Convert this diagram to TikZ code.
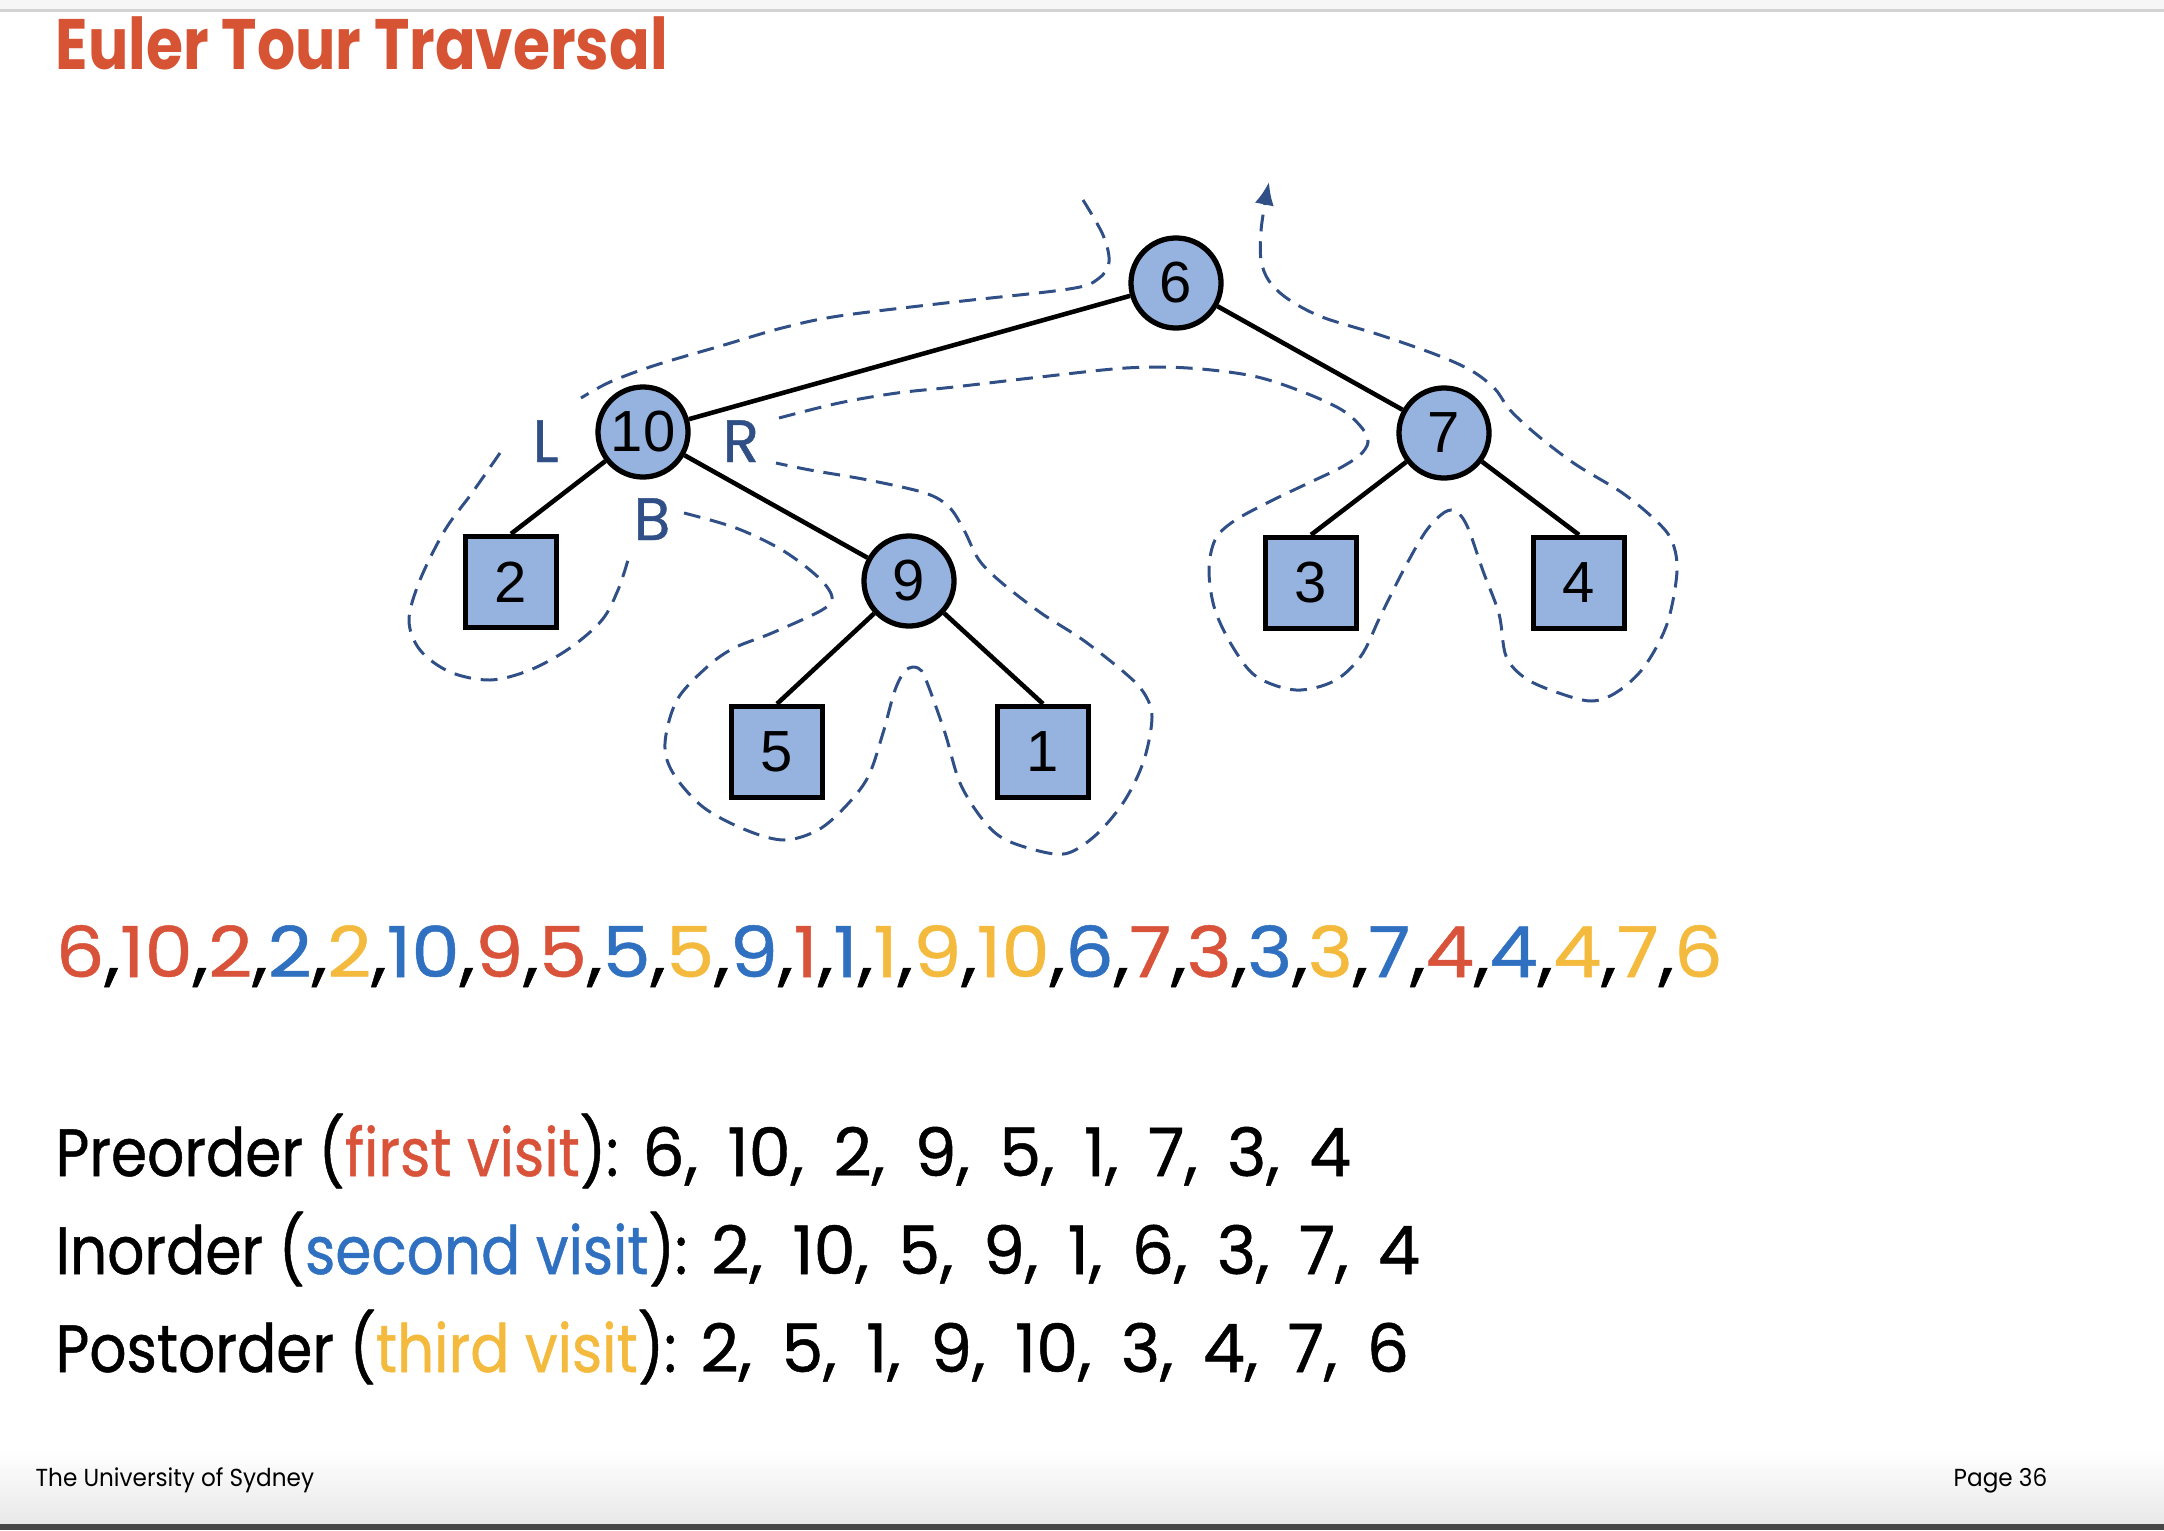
\documentclass[tikz,border=0pt]{standalone}
\usepackage{fontspec}
\setmainfont{Poppins}[FakeBold=0.7]
\newfontfamily\titlefont{Poppins}[FakeStretch=0.84]
\newfontfamily\tourfont{Poppins}[FakeStretch=1.095, FakeBold=0.7]
\newfontfamily\wordfont{Poppins}[FakeStretch=0.87, FakeBold=0.7]
\newfontfamily\footfont{Poppins}[FakeStretch=0.94]
\newfontfamily\keyfont{Liberation Sans}
\usetikzlibrary{arrows.meta}
\definecolor{titlered}{RGB}{214,83,52}
\definecolor{firstc}{RGB}{217,83,58}
\definecolor{secondc}{RGB}{48,112,192}
\definecolor{thirdc}{RGB}{244,186,61}
\definecolor{keyfill}{RGB}{149,179,222}
\definecolor{tourblue}{RGB}{47,79,134}
\newcommand{\fv}[1]{\textcolor{firstc}{#1}}
\newcommand{\sv}[1]{\textcolor{secondc}{#1}}
\newcommand{\tv}[1]{\textcolor{thirdc}{#1}}
\newcommand{\orderlist}[1]{{\spaceskip=\dimexpr\fontdimen2\font+3.3pt\relax #1}}

\begin{document}
\begin{tikzpicture}[x=0.01cm, y=-0.01cm,
  keynode/.style={circle, draw, line width=1.5pt, fill=keyfill, minimum size=0.9cm, inner sep=0pt, font=\keyfont\fontsize{16.5}{19}\selectfont},
  leafnode/.style={rectangle, draw, line width=1.5pt, fill=keyfill, minimum size=0.91cm, inner sep=0pt, font=\keyfont\fontsize{16.5}{19}\selectfont},
  branch/.style={line width=1.3pt},
  tour/.style={tourblue, line width=0.85pt, dash pattern=on 4.8pt off 2.8pt},
  side/.style={tourblue, anchor=base west, inner sep=0pt, font=\fontsize{17}{20}\selectfont},
  textline/.style={anchor=base west, inner sep=0pt, font=\fontsize{19}{22}\selectfont}]
  \useasboundingbox (0,0) rectangle (2164,1530);
  \fill[gray!7] (0,0) rectangle (2164,10);
  \draw[gray!35, line width=0.6pt] (0,10.5) -- (2164,10.5);
  \shade[top color=white, bottom color=gray!18] (0,1450) rectangle (2164,1524);
  \fill[black!72] (0,1524) rectangle (2164,1530);

  \node[anchor=base west, inner sep=0pt, text=titlered, font=\titlefont\bfseries\fontsize{20.3}{24}\selectfont] (title) at (55,69) {Euler Tour Traversal};

  \node[keynode] (n6) at (1176,283) {6};
  \node[keynode] (n10) at (643,432) {10};
  \node[keynode] (n7) at (1444,433) {7};
  \node[keynode] (n9) at (909,581) {9};
  \node[leafnode] (l2) at (511,582) {2};
  \node[leafnode] (l5) at (777,752) {5};
  \node[leafnode] (l1) at (1043,752) {1};
  \node[leafnode] (l3) at (1311,583) {3};
  \node[leafnode] (l4) at (1579,583) {4};
  \draw[branch] (n6) -- (n10);
  \draw[branch] (n6) -- (n7);
  \draw[branch] (n10) -- (l2.north);
  \draw[branch] (n10) -- (n9);
  \draw[branch] (n9) -- (l5.north);
  \draw[branch] (n9) -- (l1.north);
  \draw[branch] (n7) -- (l3.north);
  \draw[branch] (n7) -- (l4.north);

  \node[side] (sideL) at (532,462) {L};
  \node[side] (sideR) at (722,462) {R};
  \node[side] (sideB) at (633,540) {B};

  \draw[tour] plot[smooth, tension=0.55] coordinates {(1083,200) (1103,235) (1109,262) (1098,279) (1069,289) (954,302) (839,316) (782,328) (724,345) (656,365) (610,382) (581,398)};
  \draw[tour] plot[smooth, tension=0.55] coordinates {(500,453) (472,493) (445,530) (420,580) (409,620) (420,650) (450,672) (490,680) (530,670) (570,648) (602,620) (618,590) (628,560)};
  \draw[tour] plot[smooth, tension=0.55] coordinates {(684,513) (736,528) (782,550) (818,577) (832,597) (822,610) (772,633) (734,648) (707,667) (677,700) (665,743) (673,773) (703,807) (746,830) (784,840) (818,830) (845,807) (868,777) (883,733) (895,690) (906,670) (918,668) (926,680) (945,733) (960,783) (983,820) (1006,840) (1048,853) (1071,852) (1098,833) (1125,800) (1144,760) (1152,717) (1144,693) (1125,673) (1083,640) (1041,613) (1002,583) (979,560) (964,530) (949,507) (925,493) (868,480) (810,470) (776,463)};
  \draw[tour, -{Latex[length=6.5pt, width=5.5pt]}] plot[smooth, tension=0.55] coordinates {(779,418) (839,403) (897,393) (954,387) (1040,377) (1126,368) (1188,368) (1253,376) (1303,392) (1342,410) (1362,428) (1368,442) (1360,455) (1340,468) (1315,480) (1273,500) (1234,521) (1215,540) (1209,571) (1215,610) (1234,649) (1257,677) (1296,690) (1334,681) (1361,656) (1380,617) (1403,571) (1426,531) (1445,512) (1457,512) (1468,528) (1483,571) (1499,614) (1506,656) (1525,678) (1556,692) (1591,701) (1617,692) (1644,667) (1667,624) (1677,571) (1671,539) (1652,517) (1621,492) (1575,464) (1537,435) (1510,410) (1495,389) (1472,371) (1437,355) (1380,335) (1322,317) (1288,299) (1269,281) (1261,260) (1261,231) (1265,203) (1269,182)};

  \node[anchor=base west, inner sep=0pt, font=\tourfont\fontsize{20}{24}\selectfont] (tour) at (55,977) {\fv{6},\fv{10},\fv{2},\sv{2},\tv{2},\sv{10},\fv{9},\fv{5},\sv{5},\tv{5},\sv{9},\fv{1},\sv{1},\tv{1},\tv{9},\tv{10},\sv{6},\fv{7},\fv{3},\sv{3},\tv{3},\sv{7},\fv{4},\sv{4},\tv{4},\tv{7},\tv{6}};
  \node[textline] (pre) at (55,1176) {{\wordfont Preorder (\fv{first visit}):} \orderlist{6, 10, 2, 9, 5, 1, 7, 3, 4}};
  \node[textline] (in) at (55,1274) {{\wordfont Inorder (\sv{second visit}):} \orderlist{2, 10, 5, 9, 1, 6, 3, 7, 4}};
  \node[textline] (post) at (55,1372) {{\wordfont Postorder (\tv{third visit}):} \orderlist{2, 5, 1, 9, 10, 3, 4, 7, 6}};

  \node[anchor=base west, inner sep=0pt, font=\footfont\fontsize{7}{9}\selectfont] (uni) at (35,1486) {The University of Sydney};
  \node[anchor=base west, inner sep=0pt, font=\footfont\fontsize{7}{9}\selectfont] (page) at (1953,1486) {Page 36};
\end{tikzpicture}
\end{document}
